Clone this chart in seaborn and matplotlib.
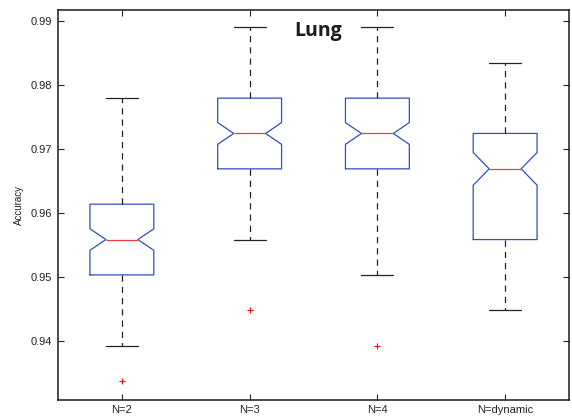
import matplotlib
matplotlib.use("Agg")
import matplotlib.pyplot as plt
import seaborn as sns
import pandas as pd

# Accuracy summaries per setting of N (Lung data set)
categories = ["N=2", "N=3", "N=4", "N=dynamic"]
whisker_low = [0.93923, 0.95580, 0.95028, 0.94475]
q1 = [0.95028, 0.96685, 0.96685, 0.95580]
median = [0.95580, 0.97238, 0.97238, 0.96685]
q3 = [0.96133, 0.97790, 0.97790, 0.97238]
whisker_high = [0.97790, 0.98895, 0.98895, 0.98343]
outliers = [[0.93370], [0.94475], [0.93923], []]
notch_low = [0.95412, 0.97068, 0.97068, 0.96430]
notch_high = [0.95748, 0.97408, 0.97408, 0.96940]

yticks = [0.94, 0.95, 0.96, 0.97, 0.98, 0.99]

# Long-form table of the summary values, one group per setting
rows = []
for i, cat in enumerate(categories):
    for v in [whisker_low[i], q1[i], median[i], q3[i], whisker_high[i]] + outliers[i]:
        rows.append({"method": cat, "accuracy": v})
df = pd.DataFrame(rows)

# Box statistics handed to matplotlib's bxp (notched boxes)
stats = [
    dict(label=categories[i], whislo=whisker_low[i], q1=q1[i], med=median[i],
         q3=q3[i], whishi=whisker_high[i], fliers=outliers[i],
         cilo=notch_low[i], cihi=notch_high[i])
    for i in range(len(categories))
]

sns.set_style("white")
plt.rcParams["font.family"] = ["Liberation Sans", "DejaVu Sans"]

fig = plt.figure(figsize=(5.72, 4.2), dpi=100)
ax = fig.add_axes([0.1014, 0.0488, 0.8934, 0.9274])

blue = "#2f4fbf"
red = "#f03c3c"

sns.boxplot(
    data=df, x="method", y="accuracy", order=categories, ax=ax,
    width=0.5, fill=False, linewidth=0.9,
    bxpstats=stats, shownotches=True,
    boxprops=dict(color=blue),
    medianprops=dict(color=red),
    whiskerprops=dict(color="#222222", linestyle=(0, (5, 4))),
    capprops=dict(color="#222222"),
    flierprops=dict(marker="+", markeredgecolor="red", markerfacecolor="none",
                    markersize=5, markeredgewidth=0.8, linestyle="none"),
)

ax.set_xlim(-0.5, 3.5)
ax.set_ylim(0.93081, 0.99167)
ax.set_yticks(yticks)
ax.set_yticklabels([f"{t:.2f}" for t in yticks])
ax.set_xticks(range(len(categories)))
ax.set_xticklabels(categories)

ax.tick_params(direction="in", length=4, width=0.8, labelsize=8,
               top=True, right=True, bottom=True, left=True, colors="#222222",
               labelcolor="#222222", pad=4)
for s in ax.spines.values():
    s.set_visible(True)
    s.set_color("#1a1a1a")
    s.set_linewidth(1.1)

ax.set_xlabel("")
ax.set_ylabel("Accuracy", fontsize=7, color="#222222", labelpad=5)

ax.text(0.51, 0.933, "Lung", transform=ax.transAxes, ha="center",
        va="baseline", fontsize=14, fontweight="bold",
        family=["Open Sans", "DejaVu Sans"], color="#1a1a1a")

fig.savefig("out.png", dpi=100)
